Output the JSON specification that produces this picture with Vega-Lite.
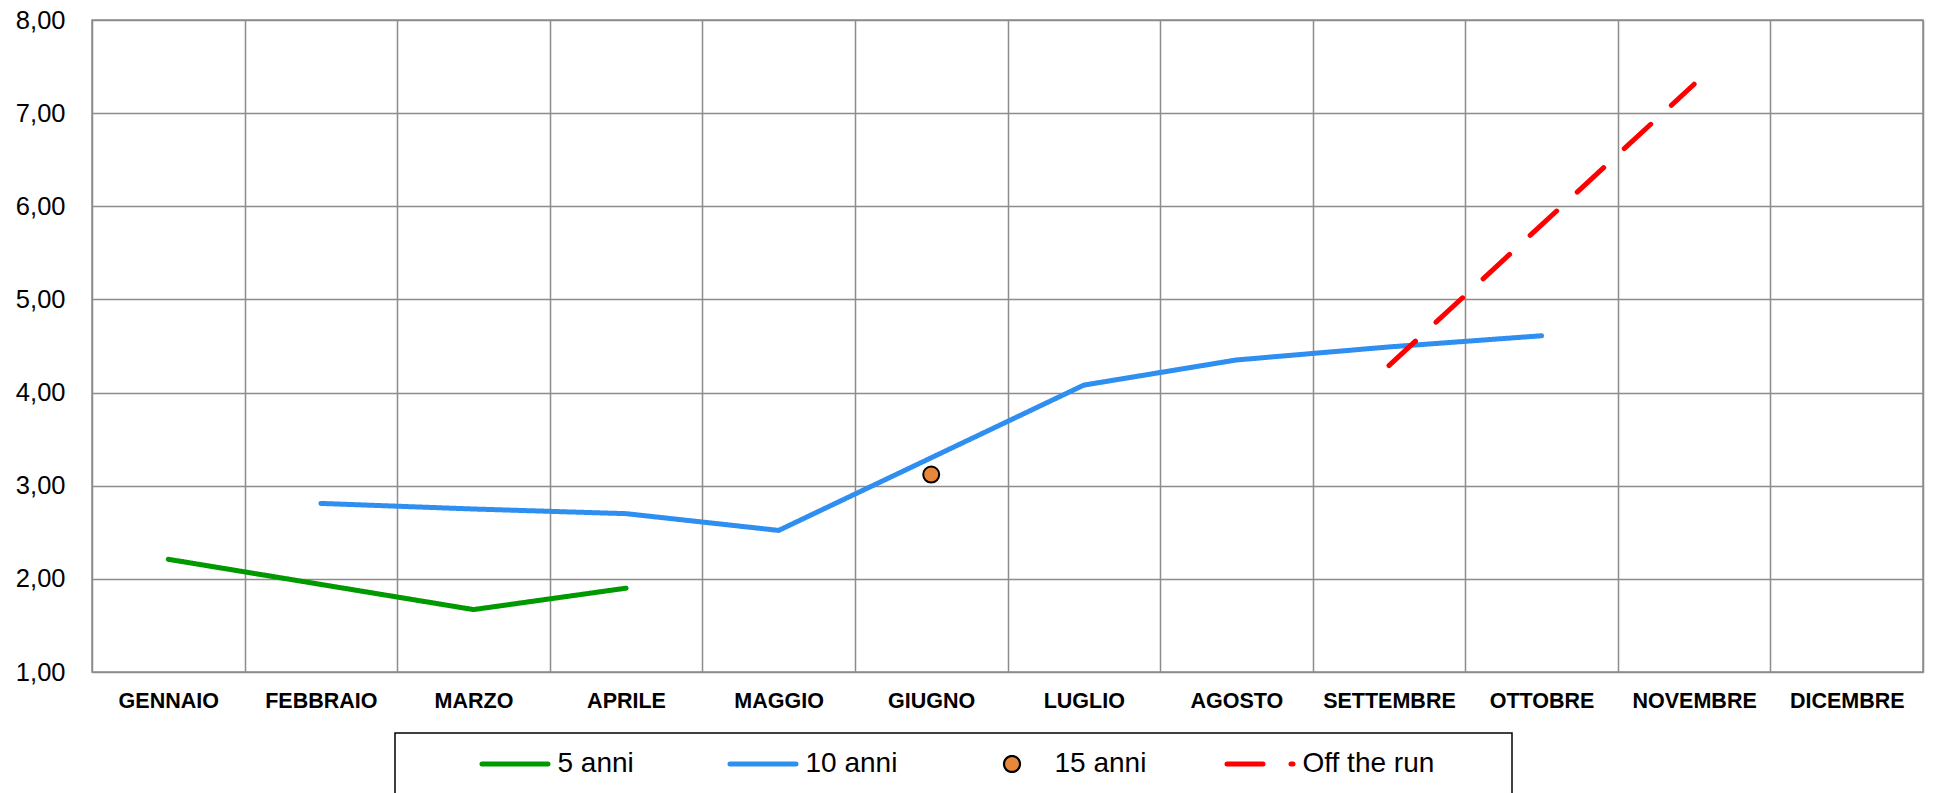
{
  "$schema": "https://vega.github.io/schema/vega-lite/v6.json",
  "width": 1831,
  "height": 652,
  "autosize": {"type": "none"},
  "padding": {"left": 92, "top": 20, "right": 10, "bottom": 121},
  "background": "white",
  "config": {
    "view": {"stroke": "#8c8c8c", "strokeWidth": 1.5},
    "axis": {"gridColor": "#8c8c8c", "gridWidth": 1.5, "gridOpacity": 1, "domain": false, "ticks": false, "tickSize": 0, "labelColor": "black", "title": null}
  },
  "data": {
    "values": [
      {"month": "GENNAIO", "series": "5 anni", "value": 2.21},
      {"month": "FEBBRAIO", "series": "5 anni", "value": 1.94},
      {"month": "MARZO", "series": "5 anni", "value": 1.67},
      {"month": "APRILE", "series": "5 anni", "value": 1.90},
      {"month": "FEBBRAIO", "series": "10 anni", "value": 2.81},
      {"month": "MARZO", "series": "10 anni", "value": 2.75},
      {"month": "APRILE", "series": "10 anni", "value": 2.70},
      {"month": "MAGGIO", "series": "10 anni", "value": 2.52},
      {"month": "GIUGNO", "series": "10 anni", "value": 3.30},
      {"month": "LUGLIO", "series": "10 anni", "value": 4.08},
      {"month": "AGOSTO", "series": "10 anni", "value": 4.35},
      {"month": "SETTEMBRE", "series": "10 anni", "value": 4.49},
      {"month": "OTTOBRE", "series": "10 anni", "value": 4.61},
      {"month": "GIUGNO", "series": "15 anni", "value": 3.12},
      {"month": "SETTEMBRE", "series": "Off the run", "value": 4.29},
      {"month": "OTTOBRE", "series": "Off the run", "value": 5.80},
      {"month": "NOVEMBRE", "series": "Off the run", "value": 7.31}
    ]
  },
  "layer": [
    {
      "transform": [{"filter": "datum.series !== '15 anni'"}],
      "mark": {"type": "line", "strokeWidth": 5, "strokeCap": "round", "strokeJoin": "round"},
      "encoding": {
        "x": {
          "field": "month", "type": "nominal",
          "scale": {"type": "band", "domain": ["GENNAIO", "FEBBRAIO", "MARZO", "APRILE", "MAGGIO", "GIUGNO", "LUGLIO", "AGOSTO", "SETTEMBRE", "OTTOBRE", "NOVEMBRE", "DICEMBRE"], "paddingInner": 0, "paddingOuter": 0},
          "axis": {"labelAngle": 0, "labelFont": "Liberation Sans", "labelFontWeight": "bold", "labelFontSize": 21.5, "labelPadding": 18, "grid": true, "tickBand": "extent", "labelLimit": 300}
        },
        "y": {
          "field": "value", "type": "quantitative",
          "scale": {"domain": [1, 8], "nice": false, "zero": false},
          "axis": {"values": [1, 2, 3, 4, 5, 6, 7, 8], "labelExpr": "replace(format(datum.value, '.2f'), '.', ',')", "labelFont": "Liberation Sans", "labelFontSize": 25.5, "labelPadding": 27, "grid": true}
        },
        "color": {
          "field": "series", "type": "nominal",
          "scale": {"domain": ["5 anni", "10 anni", "15 anni", "Off the run"], "range": ["#009900", "#2F8FF0", "#000000", "#FF0000"]},
          "legend": {
            "title": " ", "titleOrient": "left", "titlePadding": 89, "titleFontSize": 1,
            "orient": "none", "legendX": 303, "legendY": 713,
            "direction": "horizontal", "columns": 4, "gridAlign": "each", "columnPadding": 0,
            "padding": 17, "strokeColor": "black",
            "symbolType": "stroke", "symbolSize": 4356, "symbolStrokeWidth": 5,
            "labelFont": "Liberation Sans", "labelFontSize": 28, "labelOffset": 28.5, "labelColor": "black", "labelLimit": 400,
            "encode": {
              "symbols": {"update": {
                "shape": {"signal": "datum.value === '5 anni' ? 'M-1,0H1M5.894,0' : datum.value === '10 anni' ? 'M-1,0H1M5.894,0' : datum.value === '15 anni' ? 'M0.242,0A0.242,0.242,0,1,1,-0.242,0A0.242,0.242,0,1,1,0.242,0ZM-1.18,0M6.076,0' : 'M-1,0H1M6.79,0'"},
                "size": {"value": 4356},
                "fill": {"signal": "datum.value === '15 anni' ? '#E8873A' : 'transparent'"},
                "stroke": {"signal": "datum.value === '5 anni' ? '#009900' : datum.value === '10 anni' ? '#2F8FF0' : datum.value === '15 anni' ? 'black' : '#FF0000'"},
                "strokeWidth": {"signal": "datum.value === '15 anni' ? 2.2 : 5"},
                "strokeOpacity": {"value": 1},
                "fillOpacity": {"value": 1},
                "strokeDash": {"signal": "datum.value === 'Off the run' ? [40, 24] : [1, 0]"},
                "strokeCap": {"value": "round"},
                "opacity": {"value": 1}
              }},
              "legend": {"update": {"stroke": {"value": "black"}, "strokeWidth": {"value": 1.5}, "fill": {"value": "white"}}}
            }
          }
        },
        "strokeDash": {
          "field": "series", "type": "nominal",
          "scale": {"domain": ["5 anni", "10 anni", "15 anni", "Off the run"], "range": [[1, 0], [1, 0], [1, 0], [36, 28]]},
          "legend": null
        }
      }
    },
    {
      "transform": [{"filter": "datum.series === '15 anni'"}],
      "mark": {"type": "point", "shape": "circle", "filled": true, "size": 256, "fill": "#E8873A", "stroke": "black", "strokeWidth": 2, "opacity": 1},
      "encoding": {
        "x": {"field": "month", "type": "nominal"},
        "y": {"field": "value", "type": "quantitative"}
      }
    }
  ]
}
